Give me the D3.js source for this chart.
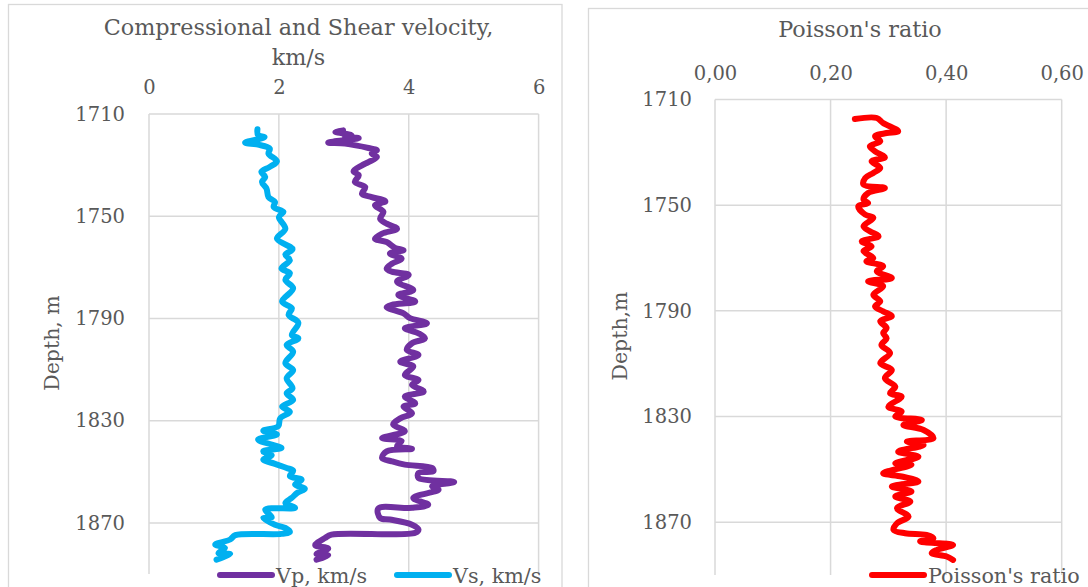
<!DOCTYPE html>
<html>
<head>
<meta charset="utf-8">
<script src="https://cdn.jsdelivr.net/npm/d3@7"></script>
<style>
  html, body { margin: 0; padding: 0; background: #ffffff; }
  svg { display: block; }
  text { font-family: "DejaVu Serif", "Liberation Serif", serif; fill: #595959; }
</style>
</head>
<body>
<svg id="chart" width="1088" height="587"></svg>
<script>
// Well log: compressional (Vp) and shear (Vs) velocity, km/s, versus depth, m
const depthVs = [1716.0, 1718.3, 1719.0, 1721.2, 1722.0, 1723.6, 1725.5, 1728.5, 1730.7, 1732.7, 1734.6, 1736.6, 1739.2, 1742.5, 1744.4, 1746.4, 1748.3, 1750.3, 1754.9, 1758.8, 1762.9, 1765.0, 1767.2, 1770.5, 1772.3, 1774.9, 1778.2, 1783.4, 1786.0, 1788.6, 1791.7, 1796.5, 1797.8, 1800.4, 1803.0, 1807.5, 1810.2, 1813.4, 1817.3, 1819.3, 1821.9, 1824.5, 1826.5, 1829.1, 1832.2, 1833.9, 1835.4, 1837.4, 1839.4, 1840.7, 1842.0, 1843.5, 1845.2, 1846.9, 1848.5, 1849.6, 1851.7, 1853.1, 1855.0, 1856.6, 1858.3, 1860.2, 1862.2, 1864.1, 1864.8, 1867.8, 1868.1, 1870.7, 1872.0, 1873.5, 1874.3, 1874.8, 1876.5, 1878.5, 1879.8, 1881.8, 1882.2, 1884.4];
const vs = [1.67, 1.68, 1.78, 1.48, 1.68, 1.86, 1.84, 1.97, 1.86, 1.73, 1.79, 1.74, 1.81, 1.84, 1.94, 1.92, 2.07, 2.00, 2.10, 1.97, 2.21, 2.10, 2.17, 2.04, 2.17, 2.10, 2.22, 2.05, 2.20, 2.15, 2.30, 2.20, 2.30, 2.12, 2.22, 2.10, 2.22, 2.12, 2.21, 2.12, 2.22, 2.05, 2.17, 2.02, 1.99, 1.76, 1.97, 1.68, 1.89, 2.04, 1.76, 1.89, 1.76, 1.94, 2.12, 2.22, 2.17, 2.35, 2.25, 2.40, 2.28, 2.20, 2.10, 2.25, 1.79, 1.89, 1.76, 1.94, 2.10, 2.17, 2.04, 1.33, 1.25, 1.02, 1.17, 1.07, 1.25, 1.04];

const depthVp = [1716.4, 1717.0, 1718.3, 1719.0, 1719.4, 1721.2, 1721.6, 1723.3, 1724.2, 1725.5, 1726.8, 1728.8, 1730.1, 1732.4, 1734.0, 1736.6, 1738.6, 1741.2, 1742.5, 1744.2, 1745.7, 1748.3, 1751.0, 1752.9, 1754.9, 1756.8, 1758.8, 1760.1, 1762.4, 1763.3, 1764.6, 1766.6, 1768.6, 1770.5, 1771.7, 1773.0, 1775.6, 1778.9, 1780.8, 1783.4, 1784.7, 1785.6, 1788.0, 1789.9, 1791.9, 1793.8, 1795.8, 1797.8, 1799.7, 1802.3, 1804.3, 1806.9, 1808.8, 1812.1, 1814.1, 1816.0, 1818.6, 1820.6, 1823.2, 1824.5, 1827.1, 1829.1, 1831.5, 1834.1, 1836.8, 1838.0, 1840.0, 1841.0, 1842.0, 1844.6, 1845.9, 1847.2, 1848.5, 1849.8, 1850.5, 1852.4, 1854.0, 1855.7, 1857.0, 1860.2, 1862.9, 1864.1, 1864.4, 1868.1, 1868.7, 1870.7, 1872.6, 1873.9, 1874.6, 1875.9, 1878.7, 1880.0, 1882.2, 1882.7, 1884.4];
const vp = [2.99, 2.87, 3.12, 3.02, 3.23, 2.76, 3.02, 3.38, 3.51, 3.43, 3.51, 3.38, 3.28, 3.15, 3.23, 3.17, 3.33, 3.28, 3.43, 3.64, 3.48, 3.61, 3.56, 3.66, 3.82, 3.59, 3.48, 3.66, 3.79, 3.92, 3.71, 3.89, 3.74, 3.66, 3.74, 4.00, 3.82, 4.07, 3.84, 4.10, 3.74, 3.66, 3.92, 4.02, 4.28, 3.94, 4.15, 4.25, 4.05, 3.97, 4.15, 3.87, 4.07, 3.94, 4.15, 4.05, 4.23, 3.94, 4.10, 3.92, 4.05, 3.87, 3.76, 3.94, 3.59, 3.89, 3.82, 4.05, 3.66, 3.59, 3.74, 3.94, 4.36, 4.38, 4.15, 4.15, 4.70, 4.36, 4.46, 4.07, 4.30, 4.05, 3.53, 3.56, 3.71, 4.05, 4.15, 4.10, 2.81, 2.71, 2.56, 2.76, 2.58, 2.76, 2.58];

// Poisson's ratio versus depth, m
const depthPr = [1717.4, 1717.0, 1718.9, 1722.0, 1722.7, 1723.9, 1725.8, 1727.7, 1729.6, 1731.9, 1733.4, 1735.9, 1737.8, 1739.7, 1742.2, 1743.5, 1745.4, 1747.9, 1749.2, 1750.4, 1753.6, 1754.8, 1758.0, 1759.9, 1761.8, 1763.7, 1765.6, 1767.4, 1770.0, 1771.2, 1773.1, 1775.0, 1777.6, 1778.8, 1780.7, 1783.9, 1786.4, 1788.3, 1790.2, 1792.0, 1793.9, 1796.5, 1798.4, 1800.4, 1802.9, 1806.0, 1809.8, 1812.4, 1815.5, 1818.7, 1821.2, 1822.5, 1826.3, 1828.1, 1830.0, 1831.3, 1833.2, 1835.1, 1838.2, 1839.5, 1840.8, 1843.3, 1845.2, 1847.7, 1848.3, 1851.5, 1852.7, 1854.6, 1856.5, 1858.4, 1860.3, 1862.2, 1864.7, 1867.9, 1870.4, 1872.9, 1874.2, 1874.8, 1876.1, 1877.3, 1878.6, 1880.5, 1881.7, 1883.0, 1884.3];
const pr = [0.242, 0.280, 0.291, 0.317, 0.297, 0.277, 0.286, 0.268, 0.277, 0.294, 0.271, 0.286, 0.274, 0.260, 0.257, 0.294, 0.265, 0.257, 0.265, 0.248, 0.260, 0.274, 0.257, 0.268, 0.283, 0.254, 0.271, 0.257, 0.274, 0.262, 0.291, 0.280, 0.306, 0.265, 0.291, 0.274, 0.286, 0.277, 0.291, 0.306, 0.286, 0.297, 0.291, 0.297, 0.288, 0.303, 0.286, 0.306, 0.294, 0.312, 0.303, 0.323, 0.300, 0.323, 0.312, 0.358, 0.326, 0.361, 0.378, 0.332, 0.361, 0.317, 0.352, 0.312, 0.340, 0.291, 0.323, 0.352, 0.306, 0.340, 0.312, 0.338, 0.315, 0.335, 0.315, 0.309, 0.329, 0.366, 0.378, 0.355, 0.412, 0.384, 0.375, 0.401, 0.412];

// Axis ticks
const depthTicks = [1710, 1750, 1790, 1830, 1870];
const velocityTicks = [0, 2, 4, 6];
const ratioTicks = [0, 0.2, 0.4, 0.6];

const GRID = "#d9d9d9";
const TEXT = "#595959";
const svg = d3.select("#chart");

const commaLocale = d3.formatLocale({ decimal: ",", thousands: " ", grouping: [3], currency: ["", ""] });

function panel(cfg) {
  const g = svg.append("g");
  const x = d3.scaleLinear().domain(cfg.xDomain).range([cfg.left, cfg.right]);
  const y = d3.scaleLinear().domain([1710, 1890]).range([cfg.top, cfg.bottom]);

  // chart frame
  g.append("rect")
    .attr("x", cfg.frame[0]).attr("y", cfg.frame[1])
    .attr("width", cfg.frame[2]).attr("height", cfg.frame[3])
    .attr("fill", "#ffffff").attr("stroke", GRID).attr("stroke-width", 1.3);

  // gridlines
  g.append("g").selectAll("line").data(cfg.xTicks).join("line")
    .attr("x1", d => x(d)).attr("x2", d => x(d))
    .attr("y1", cfg.top).attr("y2", cfg.bottom)
    .attr("stroke", GRID).attr("stroke-width", 1.5);
  g.append("g").selectAll("line").data(depthTicks).join("line")
    .attr("x1", cfg.left).attr("x2", cfg.right)
    .attr("y1", d => y(d)).attr("y2", d => y(d))
    .attr("stroke", GRID).attr("stroke-width", 1.5);

  // axes (labels only)
  const xAxis = d3.axisTop(x).tickValues(cfg.xTicks).tickSize(0).tickPadding(cfg.xPad).tickFormat(cfg.xFormat);
  const gx = g.append("g").attr("transform", `translate(0,${cfg.top})`).call(xAxis);
  const yAxis = d3.axisLeft(y).tickValues(depthTicks).tickSize(0).tickPadding(cfg.yPad).tickFormat(d3.format("d"));
  const gy = g.append("g").attr("transform", `translate(${cfg.left},0)`).call(yAxis);
  [gx, gy].forEach(a => {
    a.select(".domain").remove();
    a.selectAll("text").style("font-family", '"DejaVu Serif", serif')
      .style("font-size", "19.5px").attr("fill", TEXT);
  });

  // titles
  const title = g.append("text").attr("text-anchor", "middle")
    .style("font-size", "22.3px");
  cfg.title.forEach((t, i) => {
    title.append("tspan").attr("x", cfg.titleX).attr("y", cfg.titleY + i * 30).text(t);
  });
  g.append("text")
    .attr("transform", `translate(${cfg.yTitleX},${cfg.yTitleY}) rotate(-90)`)
    .attr("text-anchor", "middle")
    .style("font-size", "20.5px")
    .text(cfg.yTitle);

  // curves
  const line = d3.line().x(d => x(d[1])).y(d => y(d[0])).curve(d3.curveCatmullRom.alpha(0.5));
  cfg.series.forEach(s => {
    g.append("path")
      .datum(d3.zip(s.depth, s.values))
      .attr("d", line)
      .attr("fill", "none")
      .attr("stroke", s.color)
      .attr("stroke-width", 6)
      .attr("stroke-linejoin", "round")
      .attr("stroke-linecap", "round");
  });

  // legend
  cfg.series.forEach(s => {
    const lg = g.append("g");
    lg.append("line")
      .attr("x1", s.legendX).attr("x2", s.legendX + 52)
      .attr("y1", cfg.legendY).attr("y2", cfg.legendY)
      .attr("stroke", s.color).attr("stroke-width", 6)
      .attr("stroke-linecap", "round");
    lg.append("text")
      .attr("x", s.legendX + 56).attr("y", cfg.legendY + 8)
      .style("font-size", "20.7px")
      .text(s.name);
  });
}

panel({
  frame: [8.5, 4.5, 553.5, 600],
  left: 149, right: 538.6, top: 114, bottom: 574,
  xDomain: [0, 6], xTicks: velocityTicks, xFormat: d3.format("d"), xPad: 20, yPad: 24,
  title: ["Compressional and Shear velocity,", "km/s"], titleX: 298.5, titleY: 35,
  yTitle: "Depth, m", yTitleX: 59, yTitleY: 343,
  legendY: 575,
  series: [
    { name: "Vp, km/s", depth: depthVp, values: vp, color: "#7030a0", legendX: 220 },
    { name: "Vs, km/s", depth: depthVs, values: vs, color: "#00b0f0", legendX: 397 }
  ]
});

panel({
  frame: [588.5, 8.5, 520, 600],
  left: 715, right: 1061.7, top: 99.5, bottom: 575,
  xDomain: [0, 0.6], xTicks: ratioTicks, xFormat: commaLocale.format(".2f"), xPad: 20, yPad: 23,
  title: ["Poisson's ratio"], titleX: 860, titleY: 37,
  yTitle: "Depth,m", yTitleX: 627, yTitleY: 336,
  legendY: 575,
  series: [
    { name: "Poisson's ratio", depth: depthPr, values: pr, color: "#ff0000", legendX: 872 }
  ]
});
</script>
</body>
</html>
